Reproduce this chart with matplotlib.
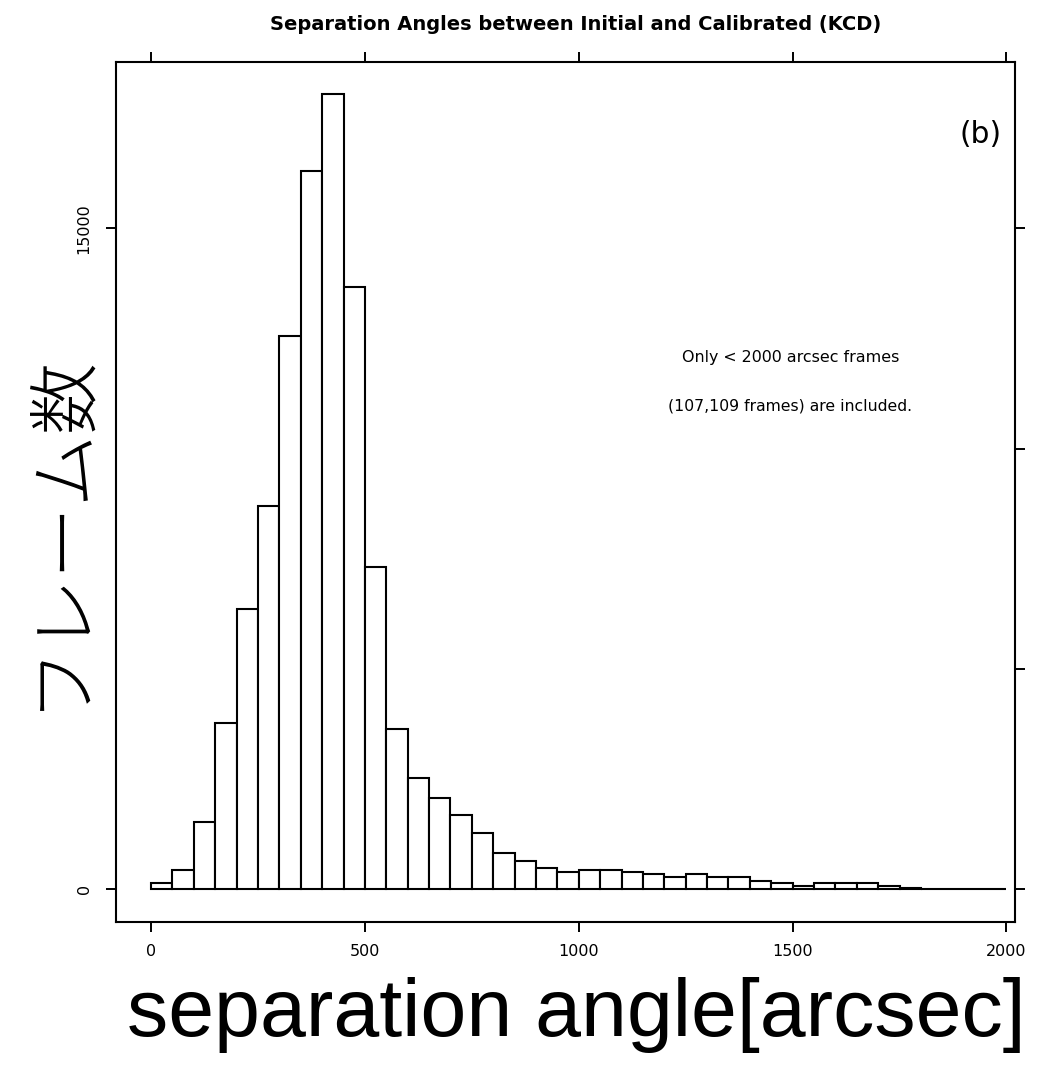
import matplotlib
matplotlib.use("Agg")
import matplotlib.pyplot as plt
import numpy as np

# ---- data ----
bin_edges = list(range(0, 2001, 50))
counts = [150, 438, 1534, 3767, 6360, 8698, 12562, 16306, 18046, 13660,
          7306, 3631, 2526, 2079, 1686, 1285, 831, 635, 484, 393,
          439, 439, 393, 348, 288, 348, 288, 288, 197, 136,
          76, 136, 136, 136, 83, 30, 0, 0, 0, 0]
x_ticks = [0, 500, 1000, 1500, 2000]
y_ticks = [0, 5000, 10000, 15000]
y_labels = ["0", "", "", "15000"]
title = "Separation Angles between Initial and Calibrated (KCD)"
note1 = "Only < 2000 arcsec frames"
note2 = "(107,109 frames) are included."
panel = "(b)"
ylabel_jp = "フレーム数"
xlabel_en = "separation angle[arcsec]"

W, H = 1052, 1066
fig = plt.figure(figsize=(W / 100, H / 100), dpi=100)
fig.patch.set_facecolor("white")
ax = fig.add_axes([116 / W, 1 - 922 / H, (1015 - 116) / W, (922 - 62) / H])

lefts = np.array(bin_edges[:-1])
widths = np.diff(bin_edges)
ax.bar(lefts, counts, width=widths, align="edge", facecolor="white",
       edgecolor="black", linewidth=1.5)

ax.set_xlim(-82, 2020)
ax.set_ylim(-742, 18772)
ax.set_xticks(x_ticks)
ax.set_xticklabels([str(v) for v in x_ticks])
ax.set_yticks(y_ticks)
ax.set_yticklabels(y_labels, rotation=90, va="center")
for sp in ax.spines.values():
    sp.set_linewidth(1.5)
ax.tick_params(axis="both", direction="out", length=7.5, width=1.4,
               labelsize=11.5, top=True, right=True)
ax.tick_params(axis="x", pad=8)
ax.tick_params(axis="y", pad=10)
for t, lab in zip(ax.yaxis.get_major_ticks(), y_labels):
    if lab == "":
        t.tick1line.set_visible(False)

fig.canvas.draw()
renderer = fig.canvas.get_renderer()


def fit(txt, target_w):
    bb = txt.get_window_extent(renderer)
    w = bb.width if txt.get_rotation() == 0 else bb.height
    txt.set_fontsize(txt.get_fontsize() * target_w / w)


def px2x(px):
    return (px - 151) / 0.4275


def py2y(py):
    return (889.3 - py) / 0.04407


t_title = fig.text(576 / W, 1 - 24 / H, title, ha="center", va="center",
                   fontsize=12, fontweight="bold",
                   family=["Liberation Sans Narrow", "DejaVu Sans"])
fit(t_title, 608)

t1 = ax.text(px2x(790), py2y(358), note1, ha="center", va="center",
             fontsize=8, family=["DejaVu Sans"])
fit(t1, 218)
t2 = ax.text(px2x(790), py2y(406), note2, ha="center", va="center",
             fontsize=8, family=["DejaVu Sans"])
fit(t2, 245)
tp = ax.text(px2x(980), py2y(135), panel,
             ha="center", va="center", fontsize=16, family=["DejaVu Sans"])
fit(tp, 42)

ty = fig.text(60 / W, 1 - 530 / H, ylabel_jp, rotation=90, ha="center",
              va="center", fontsize=50, fontweight="light",
              family=["Noto Sans CJK JP", "DejaVu Sans"])
fit(ty, 360)
tx = fig.text(576 / W, 1 - 1015 / H, xlabel_en, ha="center", va="center",
              fontsize=46, family=["Liberation Sans", "DejaVu Sans"])
fit(tx, 898)

fig.savefig("out.png", dpi=100, facecolor="white")
